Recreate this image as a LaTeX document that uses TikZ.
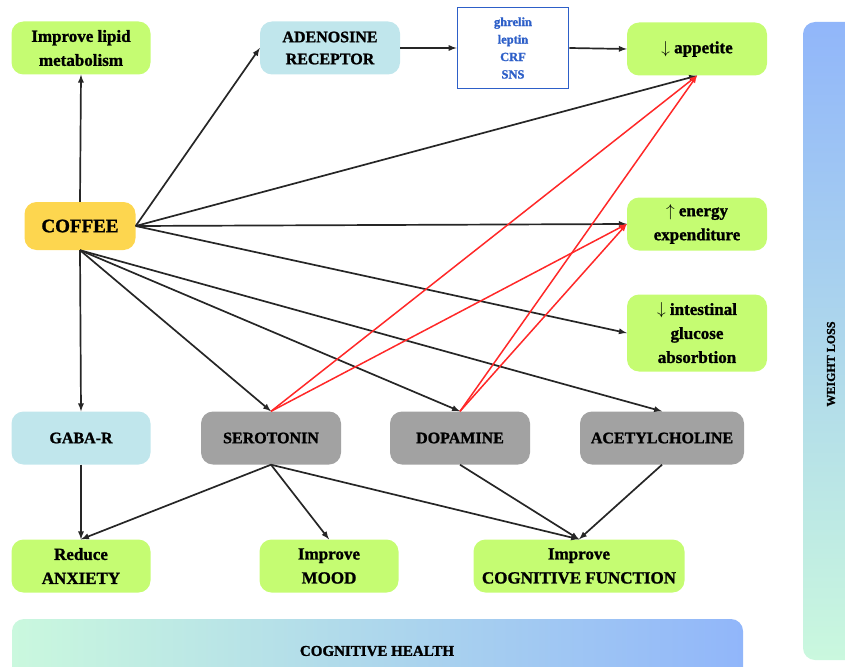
\documentclass[tikz,border=0pt]{standalone}
\usepackage{fontspec}
\setmainfont{Liberation Serif}[BoldFeatures={FakeBold=1.3}]
\usetikzlibrary{positioning, arrows}

\definecolor{effectgreen}{RGB}{197,252,114}
\definecolor{receptorblue}{RGB}{192,230,236}
\definecolor{neurogray}{RGB}{162,162,162}
\definecolor{coffeeyellow}{RGB}{253,214,79}
\definecolor{hormoneblue}{RGB}{45,95,200}
\definecolor{barblue}{RGB}{145,182,250}
\definecolor{barmint}{RGB}{202,248,222}
\definecolor{linkred}{RGB}{255,40,40}

\begin{document}
\begin{tikzpicture}[
  x=1pt, y=-1pt,
  every node/.style={font=\bfseries\fontsize{16}{22}\selectfont, align=center, inner sep=2pt},
  box/.style={rounded corners=12pt, minimum width=139pt, minimum height=53pt},
  effect/.style={box, fill=effectgreen, font=\bfseries\fontsize{17}{24}\selectfont},
  receptor/.style={box, fill=receptorblue},
  neuro/.style={box, fill=neurogray},
  link/.style={-latex, line width=1.7pt, black!85},
  redlink/.style={-latex, line width=1.5pt, linkred}
]
  \useasboundingbox (0,0) rectangle (845,666);

  % side bars
  \shade[left color=barmint, right color=barblue, rounded corners=12pt] (12,619) rectangle (743,700);
  \shade[top color=barblue, bottom color=barmint, rounded corners=12pt] (803,22) rectangle (880,660);
  \node[font=\bfseries\fontsize{15}{18}\selectfont] (health) at (377,651) {COGNITIVE HEALTH};
  \node[font=\bfseries\fontsize{12}{14}\selectfont, rotate=90] (loss) at (831,364) {WEIGHT LOSS};

  % top row
  \node[effect] (lipid) at (81,48) {Improve lipid\\metabolism};
  \node[receptor, minimum width=140pt] (adenosine) at (330,48) {ADENOSINE\\RECEPTOR};
  \node[draw=hormoneblue, line width=1.9pt, minimum width=111pt, minimum height=81pt,
        text=hormoneblue, font=\bfseries\fontsize{12.5}{17.5}\selectfont] (hormones) at (513,48)
        {ghrelin\\leptin\\CRF\\SNS};
  \node[effect, minimum width=140pt] (appetite) at (697,49) {$\downarrow$ appetite};

  % coffee and weight effects
  \node[box, fill=coffeeyellow, minimum width=111pt, minimum height=48pt,
        font=\bfseries\fontsize{19}{22}\selectfont] (coffee) at (80,226) {COFFEE};
  \node[effect, minimum width=140pt] (energy) at (697,224) {$\uparrow$ energy\\expenditure};
  \node[effect, minimum width=140pt, minimum height=77pt] (glucose) at (697,333)
        {$\downarrow$ intestinal\\glucose\\absorbtion};

  % receptors and neurotransmitters
  \node[receptor] (gaba) at (81,438) {GABA-R};
  \node[neuro, minimum width=140pt] (serotonin) at (271,438) {SEROTONIN};
  \node[neuro, minimum width=140pt] (dopamine) at (460,438) {DOPAMINE};
  \node[neuro, minimum width=164pt] (acetylcholine) at (662,438) {ACETYLCHOLINE};

  % cognitive effects
  \node[effect] (anxiety) at (81,566) {Reduce\\ANXIETY};
  \node[effect] (mood) at (329,566) {Improve\\MOOD};
  \node[effect, minimum width=211pt] (cognition) at (579,566) {Improve\\COGNITIVE FUNCTION};

  % connectors
  \draw[link] (coffee.north) -- (lipid.south);
  \draw[link] (coffee.east) -- (adenosine.west);
  \draw[link] (adenosine.east) -- (hormones.west);
  \draw[link] (hormones.east) -- (appetite.west);
  \draw[link] (coffee.east) -- (appetite.south);
  \draw[link] (coffee.east) -- (energy.west);
  \draw[link] (coffee.east) -- (glucose.west);
  \draw[link] (coffee.south) -- (gaba.north);
  \draw[link] (coffee.south) -- (serotonin.north);
  \draw[link] (coffee.south) -- (dopamine.north);
  \draw[link] (coffee.south) -- (acetylcholine.north);

  \draw[redlink] (serotonin.north) -- (appetite.south);
  \draw[redlink] (serotonin.north) -- (energy.west);
  \draw[redlink] (dopamine.north) -- (appetite.south);
  \draw[redlink] (dopamine.north) -- (energy.west);

  \draw[link] (gaba.south) -- (anxiety.north);
  \draw[link] (serotonin.south) -- (anxiety.north);
  \draw[link] (serotonin.south) -- (mood.north);
  \draw[link] (serotonin.south) -- (cognition.north);
  \draw[link] (dopamine.south) -- (cognition.north);
  \draw[link] (acetylcholine.south) -- (cognition.north);
\end{tikzpicture}
\end{document}
